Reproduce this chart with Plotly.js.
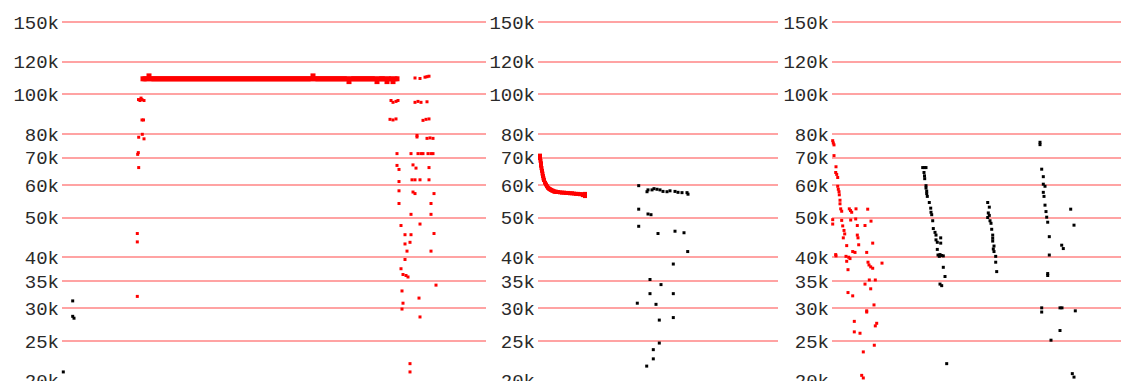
<!DOCTYPE html>
<html>
<head>
<meta charset="utf-8">
<script src="https://cdn.plot.ly/plotly-3.0.1.min.js"></script>
<style>html,body{margin:0;padding:0;background:#fff;}#chart{width:1121px;height:381px;}</style>
</head>
<body>
<div id="chart"></div>
<script>
// Tick labels (y axis, log scale, values in k)
const tickValsK = [20, 25, 30, 35, 40, 50, 60, 70, 80, 100, 120, 150];
const tickText = ['20k','25k','30k','35k','40k','50k','60k','70k','80k','100k','120k','150k'];

// ---------- Panel 1 ----------
const p1LineX = [81,83,85,87,89,91,93,95,97,99,101,103,105,107,109,111,
  113,115,117,119,121,123,125,127,129,131,133,135,137,139,141,143,
  145,147,149,151,153,155,157,159,161,163,165,167,169,171,173,175,
  177,179,181,183,185,187,189,191,193,195,197,199,201,203,205,207,
  209,211,213,215,217,219,221,223,225,227,229,231,233,235,237,239,
  241,243,245,247,249,251,253,255,257,259,261,263,265,267,269,271,
  273,275,277,279,281,283,285,287,289,291,293,295,297,299,301,303,
  305,307,309,311,313,315,317,319,321,323,325,327,329,331,333,335];
const p1LineY = [109.0,109.0,109.0,110.8,109.0,109.0,109.0,109.0,109.0,109.0,109.0,109.0,109.0,109.0,109.0,109.0,
  109.0,109.0,109.0,109.0,109.0,109.0,109.0,109.0,109.0,109.0,109.0,109.0,109.0,109.0,109.0,109.0,
  109.0,109.0,109.0,109.0,109.0,109.0,109.0,109.0,109.0,109.0,109.0,109.0,109.0,109.0,109.0,109.0,
  109.0,109.0,109.0,109.0,109.0,109.0,109.0,109.0,109.0,109.0,109.0,109.0,109.0,109.0,109.0,109.0,
  109.0,109.0,109.0,109.0,109.0,109.0,109.0,109.0,109.0,109.0,109.0,109.0,109.0,109.0,109.0,109.0,
  109.0,109.0,109.0,109.0,109.0,110.8,109.0,109.0,109.0,109.0,109.0,109.0,109.0,109.0,109.0,109.0,
  109.0,109.0,109.0,109.0,109.0,109.0,109.0,107.3,109.0,109.0,109.0,109.0,109.0,109.0,109.0,109.0,
  109.0,109.0,109.0,109.0,109.0,107.3,109.0,109.0,109.0,109.0,107.3,109.0,109.0,107.3,109.0,109.0];
const p1RedX = [76.5,78,80,82,79, 80,81.5, 76.7,80.3,82, 76.3,75.7, 76.7, 75.3,75.3, 75.3,
  353,358,363,365,367,
  329,331,334,336, 353,356,359,365,
  328,331,334, 361,364,367,
  355,355, 365,368,371,
  335,349,356,359,361,366,369,371,
  335,337,351,354,367,
  337,350,353,358,367,
  337,351,353,372,
  337,369, 349,369, 339,358,
  343,349,372, 343,348, 345,369,
  343, 339, 341,344,346, 374, 340, 357, 341, 340, 358, 348,348];
const p1RedY = [97,96.5,97,96.5,97.8, 86.5,86.5, 78.5,79.8,77.8, 72,71.3, 66.2, 45.7,43.6, 32.1,
  109.5,109.2,110,110.3,110.6,
  96.5,95.5,96,96.5, 95.5,96,95.5,95.8,
  86.8,86.5,87, 86.3,86.8,87,
  79.3,78.6, 78,78.2,78,
  71.6,71.6,71.6,71.6,71.6,71.6,71.6,71.6,
  67,65.5,67.2,66,66.2,
  61.2,61.8,61.8,61.8,61.8,
  58.1,57.7,57.2,57.2,
  54.1,54.1, 50.9,50.9, 47.8,48.2,
  45.4,45.4,45.7, 43.1,43.5, 41.4,41.4,
  39.5, 37.5, 36.3,36.1,35.8, 34.2, 33.1, 31.8, 30.9, 29.9, 28.6, 22.0,21.0];
const p1BlackX = [10.7, 10.7, 12, 1.3];
const p1BlackY = [31.3, 28.7, 28.4, 21.0];

// ---------- Panel 2 ----------
const p2RedX = [2,2,2.5,3,3,3.5,4,4.5,5,5.5,6,7,8,9,10,11,12,13,14,15,16,17,18,19,20,22,24,26,28,30,32,34,36,38,40,42,44,45,46,47,47];
const p2RedY = [70.8,69.8,68.8,67.8,66.9,66.0,65.0,64.0,63.1,62.3,61.7,60.8,60.2,59.6,59.1,58.8,58.6,58.4,58.2,58.1,57.9,57.8,57.8,57.7,57.7,57.6,57.5,57.5,57.4,57.4,57.3,57.3,57.2,57.1,57.1,57.0,57.0,56.7,56.9,56.4,57.1];
const p2BlackX = [100.7, 109,110,114,116,119,122,125,129,132,137,140,144,149,150,
  100.7, 110,113, 100.7, 120, 137, 146, 149.7, 135.3, 112, 123, 112, 135.3, 99.3, 118, 135.3, 121.3, 121.3, 115.3, 115.3, 108.7];
const p2BlackY = [59.8, 57.8,58.4,58.4,58.8,58.6,58.4,57.9,57.8,58.1,57.9,57.6,57.5,57.5,57.0,
  52.4, 51.0,50.8, 47.6, 45.7, 46.3, 45.9, 41.3, 38.5, 35.3, 34.3, 32.6, 32.6, 30.9, 30.7, 28.5, 28.1, 24.7, 23.8, 22.6, 21.7];

// ---------- Panel 3 ----------
const p3RedX = [0.7,1.3,2,2, 4,3.7,4.7,5.7, 5.7,6.3,7, 7.3,8,8,8.7,9.7, 0.7,0.7,
  9.7,10.7,12,12.7,11.3, 14.7, 3.7,4, 17.3,18.5,19.7, 18.7, 24,23.7,25.3,33, 35.7,39,
  25.3,26,26.7,40.7, 20.7,23, 14,16.7,18, 14.7,16, 34.7, 36,37,38.7,40.7, 50,
  37.3,43.3, 33,38.7, 16,20.7, 42, 34.7,34.7, 22.3, 44.7,43.3, 22.3,28, 42.3, 31.3, 29.7,31.3];
const p3RedY = [77,76,75.2,70.8, 66.5,64.4,63.7,62.6, 59.6,58.6,57.8, 56.8,55.1,54.0,52.5,51.8, 49.4,48.2,
  49.2,47.7,46.5,45.6,44.6, 42.7, 40.6,40.3, 52.5,52,51.5, 49.3, 52.5,49.6,47.8,47.8, 52.4,49.0,
  45.3,44.6,42.9,43.3, 41.3,41.1, 40.2,40,39.7, 39.1,37.3, 41.1, 38.9,38.3,37.9,37.6, 38.7,
  35.2,35.2, 34.4,33.5, 32.8,32.2, 30.6, 29.6,29.4, 27.9, 27.6,27.2, 26.3,26.1, 24.4, 23.5, 20.6,20.3];
const p3BlackX = [90.7,92.5,94, 92,92.5,92.7, 94,94,94.7,94.7,95.3, 97.3, 98.7,99,99.7, 100.7,101.3,103,104,
  104,105.3,108.7,108.7, 105.3, 106,108,109.7,111.3,107.3, 111.3, 113, 108,109.7, 114.7,
  155.7, 157.3,156.3,157.3,155.7,158,159, 159.7,160.7,160.7,160.7,162,161.3,162, 163.7, 163.7, 164.7,
  208,208, 209.7, 211.3, 211.3,213, 211.3,212, 213, 214,214.7, 215.7, 217.3, 217.3, 215.7,215.7,
  209.7,209.7, 228,230, 243.3, 228, 219, 238.7, 242, 229.7,231.3, 240.3,242];
const p3BlackY = [66.2,66.2,66.2, 64.4,63.2,62.2, 59.8,59.0,58,57.2,56.3, 54.4, 52.7,51.5,50.8, 49.1,47.0,46,45.3,
  44.1,43.5,44.6,43.3, 41.8, 40.5,40.6,40.4,40.3,40.2, 37.8, 35.9, 34.4,34.1, 22.0,
  54.4, 53,51.3,50.6,50.0,49.1,48.4, 46.8,45.3,44.5,43.8,42.6,41.9,41.3, 40.2, 38.9, 36.9,
  76.3,75.3, 65.6, 62.9, 60.3,59.6, 57.6,56.3, 53.6, 51.7,50.1, 48.7, 44.9, 40.5, 36.5,36.1,
  30.1,29.4, 30.1,30.1, 29.6, 26.5, 25.1, 52.4, 47.9, 42.8,42.0, 20.8,20.4];

const W = 1121;
const k = a => a.map(v => v * 1000);
function pts(x, y, color, xa, ya, size) {
  return {type: 'scatter', mode: 'markers', x: x, y: k(y), xaxis: xa, yaxis: ya,
    cliponaxis: false, hoverinfo: 'skip',
    marker: {symbol: 'square', size: size || 3, color: color, line: {width: 0}}};
}
const data = [
  pts(p1LineX, p1LineY, '#ff0000', 'x', 'y', 5),
  pts(p1RedX, p1RedY, '#ff0000', 'x', 'y'),
  pts(p1BlackX, p1BlackY, '#000000', 'x', 'y'),
  pts(p2RedX, p2RedY, '#ff0000', 'x2', 'y2', 4),
  pts(p2BlackX, p2BlackY, '#000000', 'x2', 'y2'),
  pts(p3RedX, p3RedY, '#ff0000', 'x3', 'y3'),
  pts(p3BlackX, p3BlackY, '#000000', 'x3', 'y3')
];
const yRange = [4.3001, 5.2297];
function yax(anchor) {
  return {type: 'log', range: yRange, anchor: anchor, domain: [0, 1],
    tickmode: 'array', tickvals: k(tickValsK), ticktext: tickText, showgrid: true,
    gridcolor: '#ffa3a3', gridwidth: 2, zeroline: false, showline: false,
    minor: {showgrid: false, ticks: ''},
    ticks: '', ticklabelstandoff: 2, ticklabeloverflow: 'allow', automargin: false,
    tickfont: {family: 'Liberation Mono, monospace', size: 19, color: '#2a2a2a'}};
}
function xax(dom, range, anchor) {
  return {domain: dom, range: range, anchor: anchor, showgrid: false, zeroline: false,
    showline: false, showticklabels: false, ticks: '', automargin: false};
}
const layout = {
  width: W, height: 381, margin: {l: 0, r: 0, t: 0, b: 0},
  paper_bgcolor: '#ffffff', plot_bgcolor: '#ffffff', showlegend: false,
  xaxis: xax([62 / W, 486 / W], [0, 424], 'y'),
  xaxis2: xax([538 / W, 778 / W], [0, 240], 'y2'),
  xaxis3: xax([832 / W, 1], [0, 289], 'y3'),
  yaxis: yax('x'), yaxis2: yax('x2'), yaxis3: yax('x3')
};
Plotly.newPlot('chart', data, layout, {staticPlot: true, displayModeBar: false});
</script>
</body>
</html>
